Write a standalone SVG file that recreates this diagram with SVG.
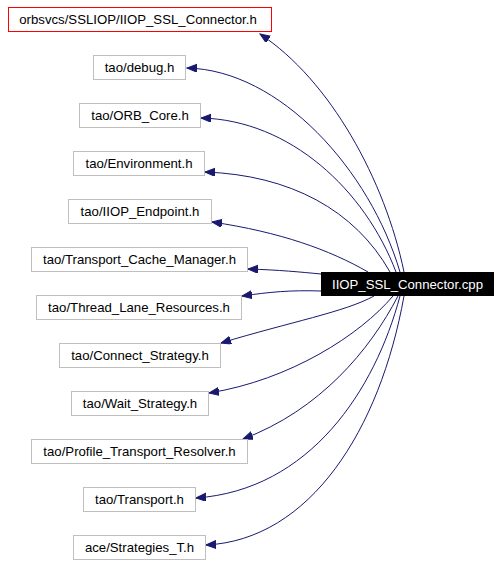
<svg xmlns="http://www.w3.org/2000/svg" width="501" height="565" viewBox="0 0 501 565">
<style>
.box{fill:#ffffff;stroke:#bfbfbf;stroke-width:1}
.red{fill:#ffffff;stroke:#ff0000;stroke-width:1}
.main{fill:#000000;stroke:#000000;stroke-width:1}
text{font-family:"Liberation Sans",Arial,sans-serif;font-size:13.2px;text-anchor:middle;fill:#000000}
.wt{fill:#ffffff}
.edge{fill:none;stroke:#191970;stroke-width:1}
</style>
<defs>
<marker id="ah" markerUnits="userSpaceOnUse" markerWidth="12" markerHeight="9" refX="10" refY="4" orient="auto">
<path d="M0,0 L10,4 L0,8 z" fill="#191970" stroke="#191970" stroke-width="1"/>
</marker>
</defs>
<g id="edges">
<path class="edge" marker-end="url(#ah)" d="M404,272 C385,180 330,80 260,34"/>
<path class="edge" marker-end="url(#ah)" d="M400,272 C370,170 280,70 187,68"/>
<path class="edge" marker-end="url(#ah)" d="M396,272 C365,190 290,120 201,118"/>
<path class="edge" marker-end="url(#ah)" d="M390,272 C355,210 290,175 205,172"/>
<path class="edge" marker-end="url(#ah)" d="M368,272 C330,250 280,232 212,222"/>
<path class="edge" marker-end="url(#ah)" d="M321,274 C300,272 280,270 248,269"/>
<path class="edge" marker-end="url(#ah)" d="M321,291 C290,290 270,292 242,296"/>
<path class="edge" marker-end="url(#ah)" d="M374,296 C345,312 290,322 221,343"/>
<path class="edge" marker-end="url(#ah)" d="M393,296 C360,335 290,380 209,393"/>
<path class="edge" marker-end="url(#ah)" d="M398,296 C370,350 320,410 243,439"/>
<path class="edge" marker-end="url(#ah)" d="M400,296 C375,390 310,490 196,498"/>
<path class="edge" marker-end="url(#ah)" d="M404,296 C380,430 310,540 206,545"/>
</g>
<g id="n0"><rect class="main" x="321.5" y="272.5" width="172" height="23"/><text class="wt" x="407.5" y="288.5">IIOP_SSL_Connector.cpp</text></g>
<g id="n1"><rect class="red" x="8.5" y="7.5" width="263" height="24"/><text x="138" y="24">orbsvcs/SSLIOP/IIOP_SSL_Connector.h</text></g>
<g id="n2"><rect class="box" x="93.5" y="55.5" width="92" height="24"/><text x="139.5" y="72">tao/debug.h</text></g>
<g id="n3"><rect class="box" x="79.5" y="103.5" width="121" height="24"/><text x="140" y="120">tao/ORB_Core.h</text></g>
<g id="n4"><rect class="box" x="73.5" y="151.5" width="131" height="24"/><text x="139" y="168">tao/Environment.h</text></g>
<g id="n5"><rect class="box" x="68.5" y="199.5" width="143" height="24"/><text x="140" y="216">tao/IIOP_Endpoint.h</text></g>
<g id="n6"><rect class="box" x="31.5" y="247.5" width="216" height="24"/><text x="139.5" y="264">tao/Transport_Cache_Manager.h</text></g>
<g id="n7"><rect class="box" x="36.5" y="295.5" width="205" height="24"/><text x="139" y="312">tao/Thread_Lane_Resources.h</text></g>
<g id="n8"><rect class="box" x="59.5" y="343.5" width="161" height="24"/><text x="140" y="360">tao/Connect_Strategy.h</text></g>
<g id="n9"><rect class="box" x="71.5" y="391.5" width="137" height="24"/><text x="140" y="408">tao/Wait_Strategy.h</text></g>
<g id="n10"><rect class="box" x="31.5" y="439.5" width="216" height="24"/><text x="139.5" y="456">tao/Profile_Transport_Resolver.h</text></g>
<g id="n11"><rect class="box" x="83.5" y="487.5" width="112" height="24"/><text x="139.5" y="504">tao/Transport.h</text></g>
<g id="n12"><rect class="box" x="73.5" y="535.5" width="132" height="24"/><text x="139.5" y="552">ace/Strategies_T.h</text></g>
</svg>
